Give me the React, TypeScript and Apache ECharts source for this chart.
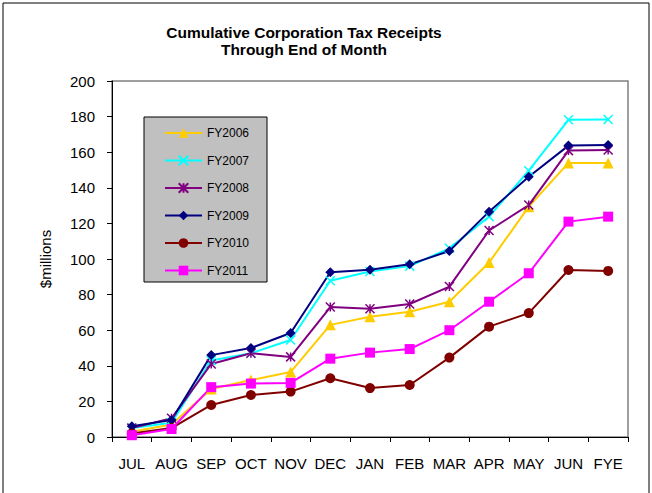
import React, { useEffect, useRef } from "react";
import * as echarts from "echarts";

const months = ["JUL", "AUG", "SEP", "OCT", "NOV", "DEC", "JAN", "FEB", "MAR", "APR", "MAY", "JUN", "FYE"];
const yTicks = [0, 20, 40, 60, 80, 100, 120, 140, 160, 180, 200];

const fy2006 = [3, 7, 27, 32, 36.5, 63, 67.6, 70.4, 76, 98, 129.4, 154, 154];
const fy2007 = [5, 8, 43, 47, 54.5, 87.8, 93, 96, 106, 123.8, 149.6, 178.2, 178.4];
const fy2008 = [5, 10.5, 41, 47, 45, 73, 72, 74.7, 84.5, 116, 130.3, 160.9, 161.2];
const fy2009 = [6, 9.5, 46, 50, 58.4, 92.6, 94, 97, 104.5, 126.6, 146.2, 163.7, 164];
const fy2010 = [2, 5, 18, 23.6, 25.5, 33, 27.5, 29.2, 44.6, 62, 69.6, 93.8, 93.3];
const fy2011 = [1, 4.5, 28, 30, 30.4, 44, 47.4, 49.4, 60, 76, 92, 121, 123.8];

const FONT = "Liberation Sans, Arial, sans-serif";
const X_PATH = "path://M0,0L10,10M10,0L0,10";
const STAR_PATH = "path://M0,0L10,10M10,0L0,10M5,0L5,10";

type S = { name: string; data: number[]; color: string; symbol: string; size: number; stroke?: boolean };
const seriesDefs: S[] = [
  { name: "FY2006", data: fy2006, color: "#FFCC00", symbol: "triangle", size: 11 },
  { name: "FY2007", data: fy2007, color: "#00FFFF", symbol: X_PATH, size: 9, stroke: true },
  { name: "FY2008", data: fy2008, color: "#800080", symbol: STAR_PATH, size: 9, stroke: true },
  { name: "FY2009", data: fy2009, color: "#000080", symbol: "diamond", size: 10 },
  { name: "FY2010", data: fy2010, color: "#800000", symbol: "circle", size: 10 },
  { name: "FY2011", data: fy2011, color: "#FF00FF", symbol: "rect", size: 10 },
];

export default function App() {
  const ref = useRef<HTMLDivElement>(null);
  useEffect(() => {
    if (!ref.current) return;
    const chart = echarts.init(ref.current, null, { renderer: "svg" });
    chart.setOption({
      animation: false,
      backgroundColor: "#ffffff",
      textStyle: { fontFamily: FONT },
      grid: { left: 112, right: 24, top: 81, bottom: 56, show: true, borderColor: "#808080", borderWidth: 1.5 },
      xAxis: {
        type: "category",
        data: months,
        boundaryGap: true,
        axisLine: { lineStyle: { color: "#000", width: 1 } },
        axisTick: { show: true, length: 5, lineStyle: { color: "#000" } },
        axisLabel: { color: "#000", fontSize: 15, margin: 19, interval: 0, fontFamily: FONT },
        splitLine: { show: false },
      },
      yAxis: {
        type: "value",
        min: yTicks[0],
        max: yTicks[yTicks.length - 1],
        interval: 20,
        axisLine: { show: true, lineStyle: { color: "#000", width: 1 } },
        axisTick: { show: true, length: 5, lineStyle: { color: "#000" } },
        axisLabel: { color: "#000", fontSize: 15, margin: 17, fontFamily: FONT },
        splitLine: { show: false },
      },
      legend: {
        orient: "vertical",
        left: 159,
        top: 122,
        itemWidth: 37,
        itemHeight: 12,
        itemGap: 15.5,
        textStyle: { fontSize: 12, color: "#000", fontFamily: FONT },
        data: seriesDefs.map((s) => s.name),
        z: 5,
      },
      graphic: [
        {
          type: "rect",
          z: 1,
          shape: { x: 144, y: 117, width: 123, height: 165 },
          style: { fill: "#C0C0C0", stroke: "#000", lineWidth: 1 },
        },
        {
          type: "polyline",
          z: 1,
          shape: { points: [[3, 493], [3, 3], [649, 3], [649, 493]] },
          style: { fill: "none", stroke: "#000", lineWidth: 1 },
        },
        {
          type: "text",
          x: 304,
          y: 24,
          style: {
            text: "Cumulative Corporation Tax Receipts\nThrough End of Month",
            fontSize: 15.5,
            fontWeight: "bold",
            fontFamily: FONT,
            fill: "#000",
            textAlign: "center",
            lineHeight: 17,
          },
        },
        {
          type: "text",
          x: 45,
          y: 259,
          rotation: Math.PI / 2,
          style: {
            text: "$millions",
            fontSize: 15,
            fontFamily: FONT,
            fill: "#000",
            textAlign: "center",
            textVerticalAlign: "middle",
          },
        },
      ],
      series: seriesDefs.map((s) => ({
        name: s.name,
        type: "line",
        data: s.data,
        symbol: s.symbol,
        symbolSize: s.size,
        lineStyle: { color: s.color, width: 2 },
        itemStyle: s.stroke
          ? { color: s.color, borderColor: s.color, borderWidth: 1.5 }
          : { color: s.color, borderColor: s.color, borderWidth: 0 },
        z: 3,
      })),
    });
    return () => chart.dispose();
  }, []);
  return <div ref={ref} style={{ width: 652, height: 493, position: "absolute", left: 0, top: 0 }} />;
}
